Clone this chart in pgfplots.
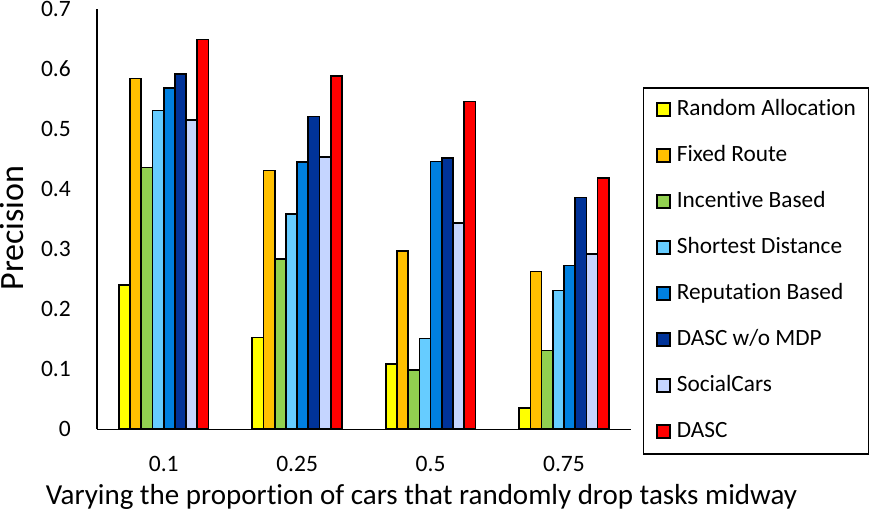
\documentclass[border=0pt]{standalone}
\usepackage{fontspec}
\setmainfont{Carlito}[Ligatures=NoCommon]
\usepackage{pgfplots}
\pgfplotsset{compat=1.18}
\definecolor{cRA}{HTML}{FFFF00}
\definecolor{cFR}{HTML}{FFC000}
\definecolor{cIB}{HTML}{92D050}
\definecolor{cSD}{HTML}{66CCFF}
\definecolor{cRB}{HTML}{0080E0}
\definecolor{cDM}{HTML}{003399}
\definecolor{cSC}{HTML}{C5D5FF}
\definecolor{cDA}{HTML}{FF0000}
\begin{document}
\begin{tikzpicture}
\begin{axis}[
  at={(97bp,82.7bp)}, anchor=south west,
  scale only axis, width=533.7bp, height=420.3bp,
  ybar=0pt, bar width=11.2bp,
  xmin=-0.5, xmax=3.5, ymin=0, ymax=0.7,
  xtick={0,1,2,3}, xticklabels={0.1,0.25,0.5,0.75},
  ytick={0,0.1,0.2,0.3,0.4,0.5,0.6,0.7},
  yticklabels={0,0.1,0.2,0.3,0.4,0.5,0.6,0.7},
  axis lines*=left,
  axis line style={line width=1.5bp, black},
  major tick length=0pt,
  tick label style={font=\fontsize{23.5bp}{27bp}\selectfont, inner sep=0pt},
  xticklabel style={anchor=north, yshift=-27bp},
  yticklabel style={anchor=east, xshift=-26bp},
  every axis x label/.style={at={(axis description cs:0.608,-0.1801)}, anchor=base, inner sep=0pt, font=\fontsize{29bp}{33bp}\selectfont},
  every axis y label/.style={at={(axis description cs:-0.1368,0.479)}, rotate=90, anchor=base, inner sep=0pt, font=\fontsize{34bp}{38bp}\selectfont},
  xlabel={Varying the proportion of cars that randomly drop tasks midway},
  ylabel={Precision},
  legend image code/.code={\draw[#1,line width=1.6bp] (0bp,-6.5bp) rectangle (13bp,6.5bp);},
  legend cell align=left,
  legend style={
    at={(axis description cs:1.0230,0.8144)}, anchor=north west,
    draw=black, line width=1.5bp,
    font=\fontsize{23.3bp}{27bp}\selectfont,
    inner xsep=12.5bp, inner ysep=12bp,
    row sep=26bp, column sep=6bp,
    nodes={inner sep=0pt, text height=16bp, text depth=4bp},
  },
]
\addplot[fill=cRA, draw=black, line width=1.7bp] coordinates {(0,0.240) (1,0.153) (2,0.109) (3,0.035)};
\addplot[fill=cFR, draw=black, line width=1.7bp] coordinates {(0,0.584) (1,0.431) (2,0.297) (3,0.263)};
\addplot[fill=cIB, draw=black, line width=1.7bp] coordinates {(0,0.436) (1,0.284) (2,0.099) (3,0.131)};
\addplot[fill=cSD, draw=black, line width=1.7bp] coordinates {(0,0.531) (1,0.359) (2,0.151) (3,0.231)};
\addplot[fill=cRB, draw=black, line width=1.7bp] coordinates {(0,0.569) (1,0.445) (2,0.446) (3,0.273)};
\addplot[fill=cDM, draw=black, line width=1.7bp] coordinates {(0,0.592) (1,0.521) (2,0.452) (3,0.386)};
\addplot[fill=cSC, draw=black, line width=1.7bp] coordinates {(0,0.515) (1,0.454) (2,0.344) (3,0.292)};
\addplot[fill=cDA, draw=black, line width=1.7bp] coordinates {(0,0.649) (1,0.588) (2,0.546) (3,0.419)};
\legend{Random Allocation, Fixed Route, Incentive Based, Shortest Distance, Reputation Based, DASC w/o MDP, SocialCars, DASC}
\end{axis}
\pgfresetboundingbox
\useasboundingbox (0,0) rectangle (870bp,512bp);
\end{tikzpicture}
\end{document}
